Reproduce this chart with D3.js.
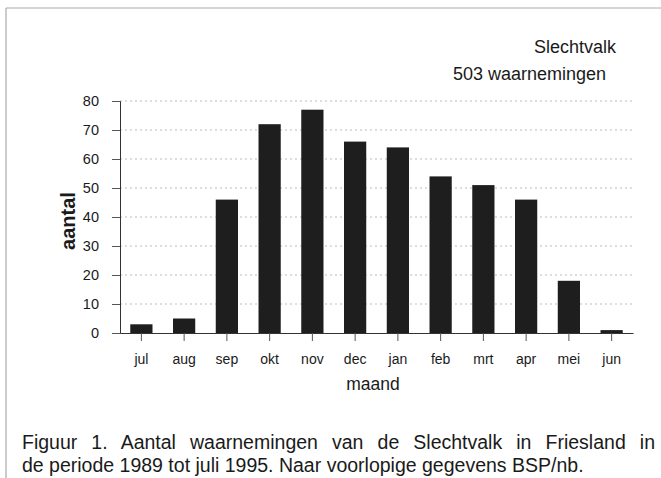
<!DOCTYPE html>
<html>
<head>
<meta charset="utf-8">
<script src="https://cdn.jsdelivr.net/npm/d3@7"></script>
<style>
  body { margin: 0; background: #fff; }
  text { font-family: "Liberation Sans", Arial, sans-serif; fill: #1a1a1a; }
</style>
</head>
<body>
<div id="chart"></div>
<script>
// Data: Slechtvalk waarnemingen per maand
const months = ["jul", "aug", "sep", "okt", "nov", "dec", "jan", "feb", "mrt", "apr", "mei", "jun"];
const counts = [3, 5, 46, 72, 77, 66, 64, 54, 51, 46, 18, 1];
const yTicks = [0, 10, 20, 30, 40, 50, 60, 70, 80];

const W = 661, H = 478;
const plot = { left: 120, right: 633, top: 101, bottom: 333 };

const svg = d3.select("#chart").append("svg")
  .attr("width", W).attr("height", H);

// frame (left + top edge of scanned box)
svg.append("line").attr("x1", 6).attr("x2", 6).attr("y1", 8).attr("y2", H)
  .attr("stroke", "#999").attr("stroke-width", 1);
svg.append("line").attr("x1", 6).attr("x2", W).attr("y1", 8).attr("y2", 8)
  .attr("stroke", "#aaa").attr("stroke-width", 1);

const x = d3.scaleBand().domain(months).range([plot.left, plot.right]).paddingInner(0.48).paddingOuter(0.24);
const y = d3.scaleLinear().domain([0, 80]).range([plot.bottom, plot.top]);

// gridlines
svg.append("g").selectAll("line").data(yTicks.filter(d => d > 0)).join("line")
  .attr("x1", plot.left).attr("x2", plot.right)
  .attr("y1", d => y(d)).attr("y2", d => y(d))
  .attr("stroke", "#bbb").attr("stroke-dasharray", "2,3");

// bars
svg.append("g").selectAll("rect").data(counts).join("rect")
  .attr("x", (d, i) => x(months[i]))
  .attr("width", x.bandwidth())
  .attr("y", d => y(d))
  .attr("height", d => y(0) - y(d))
  .attr("fill", "#1e1e1e");

// y axis
const yAxis = svg.append("g").attr("transform", `translate(${plot.left},0)`)
  .call(d3.axisLeft(y).tickValues(yTicks).tickSize(8).tickPadding(13));
yAxis.selectAll("text").style("font-size", "14.5px");

// x axis
const xc = d3.scaleBand().domain(months).range([plot.left, plot.right]);
const xAxis = svg.append("g").attr("transform", `translate(0,${plot.bottom})`)
  .call(d3.axisBottom(xc).tickSize(8).tickPadding(13).tickSizeOuter(0));
xAxis.selectAll("text").style("font-size", "14px");
svg.selectAll(".domain").attr("stroke", "#333");
svg.selectAll(".tick line").attr("stroke", "#555");

// axis titles
svg.append("text")
  .attr("transform", "rotate(-90)")
  .attr("x", -221).attr("y", 75)
  .attr("text-anchor", "middle")
  .style("font-size", "20px").style("font-weight", "bold")
  .text("aantal");

svg.append("text")
  .attr("x", 373).attr("y", 390)
  .attr("text-anchor", "middle")
  .style("font-size", "17.5px")
  .text("maand");

// titles top right
svg.append("text").attr("x", 616).attr("y", 53).attr("text-anchor", "end")
  .style("font-size", "18px").text("Slechtvalk");
svg.append("text").attr("x", 606).attr("y", 80).attr("text-anchor", "end")
  .style("font-size", "18px").text("503 waarnemingen");

// caption, first line justified with word spacing
const cap1 = svg.append("text").attr("x", 22).attr("y", 449)
  .style("font-size", "19.5px")
  .text("Figuur 1. Aantal waarnemingen van de Slechtvalk in Friesland in");
const gaps = cap1.text().split(" ").length - 1;
const extra = (655 - 22 - cap1.node().getComputedTextLength()) / gaps;
cap1.style("word-spacing", `${extra}px`);
svg.append("text").attr("x", 22).attr("y", 472)
  .style("font-size", "19.5px")
  .text("de periode 1989 tot juli 1995. Naar voorlopige gegevens BSP/nb.");
</script>
</body>
</html>
